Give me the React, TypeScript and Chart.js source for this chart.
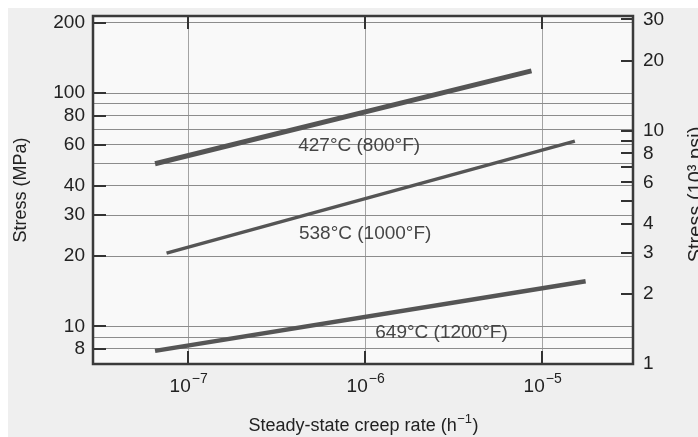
import React, { useEffect, useRef } from 'react';
import { Chart, registerables } from 'chart.js';

Chart.register(...registerables);

// ---- data ----
const seriesNames = ['427°C (800°F)', '538°C (1000°F)', '649°C (1200°F)'];
const rate427 = [6.5e-8, 8.7e-6];
const stress427 = [49.8, 124.5];
const rate538 = [7.55e-8, 1.53e-5];
const stress538 = [20.6, 62.2];
const rate649 = [6.5e-8, 1.76e-5];
const stress649 = [7.85, 15.6];

// where each curve's label sits (data coordinates)
const labelRates = [9.25e-7, 1.0e-6, 2.7e-6];
const labelStresses = [59.6, 24.9, 9.4];

const xTicks = [1e-7, 1e-6, 1e-5];
const xTickExponents = ['−7', '−6', '−5'];
const yGridValues = [200, 100, 90, 80, 70, 60, 50, 40, 30, 20, 10, 9, 8];
const yLabeled = [200, 100, 80, 60, 40, 30, 20, 10, 8];
const y2TickValues = [30, 20, 10, 9, 8, 7, 6, 5, 4, 3, 2, 1];
const y2Labeled = [30, 20, 10, 8, 6, 4, 3, 2, 1];

const MPA_PER_KSI = 6.895;
const xMin = 2.9e-8;
const xMax = 3.26e-5;
const yMin = 6.895;
const yMax = 214;

const FONT = "'Liberation Sans', Arial, sans-serif";

function pts(xs: number[], ys: number[]) {
  return xs.map((x, i) => ({ x, y: ys[i] }));
}

const decorPlugin = {
  id: 'decor',
  beforeDraw(chart: any) {
    const { ctx, chartArea } = chart;
    ctx.save();
    ctx.fillStyle = '#efefef';
    ctx.fillRect(0, 0, chart.width, chart.height);
    ctx.fillStyle = '#f9f9f9';
    ctx.fillRect(chartArea.left, chartArea.top, chartArea.right - chartArea.left, chartArea.bottom - chartArea.top);
    ctx.restore();
  },
  afterDatasetsDraw(chart: any) {
    const { ctx, chartArea, scales } = chart;
    ctx.save();
    // curve labels
    ctx.fillStyle = '#454545';
    ctx.font = `19px ${FONT}`;
    ctx.textAlign = 'center';
    ctx.textBaseline = 'middle';
    seriesNames.forEach((name, i) => {
      const px = scales.x.getPixelForValue(labelRates[i]);
      const py = scales.y.getPixelForValue(labelStresses[i]);
      ctx.fillText(name, px, py);
    });
    // inward tick marks
    ctx.strokeStyle = '#333';
    ctx.lineWidth = 2;
    ctx.beginPath();
    yLabeled.forEach((v) => {
      const py = Math.round(scales.y.getPixelForValue(v));
      ctx.moveTo(chartArea.left, py);
      ctx.lineTo(chartArea.left + 13, py);
    });
    y2TickValues.forEach((v) => {
      const py = Math.round(scales.y2.getPixelForValue(v));
      ctx.moveTo(chartArea.right, py);
      ctx.lineTo(chartArea.right - 12, py);
    });
    xTicks.forEach((v) => {
      const px = Math.round(scales.x.getPixelForValue(v));
      ctx.moveTo(px, chartArea.bottom);
      ctx.lineTo(px, chartArea.bottom - 13);
      ctx.moveTo(px, chartArea.top);
      ctx.lineTo(px, chartArea.top + 13);
    });
    ctx.stroke();
    // frame
    ctx.strokeStyle = '#3a3a3a';
    ctx.lineWidth = 2.5;
    ctx.strokeRect(chartArea.left, chartArea.top, chartArea.right - chartArea.left, chartArea.bottom - chartArea.top);

    // x tick labels: 10 with raised exponent
    ctx.fillStyle = '#222';
    ctx.textBaseline = 'alphabetic';
    ctx.textAlign = 'left';
    xTicks.forEach((v, i) => {
      const px = scales.x.getPixelForValue(v);
      ctx.font = `19px ${FONT}`;
      const wb = ctx.measureText('10').width;
      ctx.font = `14px ${FONT}`;
      const we = ctx.measureText(xTickExponents[i]).width;
      const x0 = px - (wb + we) / 2;
      const base = chartArea.bottom + 28;
      ctx.font = `19px ${FONT}`;
      ctx.fillText('10', x0, base);
      ctx.font = `14px ${FONT}`;
      ctx.fillText(xTickExponents[i], x0 + wb + 1, base - 9);
    });

    // x axis title with superscript
    {
      const cx = (chartArea.left + chartArea.right) / 2;
      const base = scales.x.bottom - 6;
      const main = 'Steady-state creep rate (h';
      const sup = '−1';
      const close = ')';
      ctx.font = `18px ${FONT}`;
      const wm = ctx.measureText(main).width;
      const wc = ctx.measureText(close).width;
      ctx.font = `13px ${FONT}`;
      const ws = ctx.measureText(sup).width;
      const x0 = cx - (wm + ws + wc) / 2;
      ctx.font = `18px ${FONT}`;
      ctx.fillText(main, x0, base);
      ctx.fillText(close, x0 + wm + ws + 1, base);
      ctx.font = `13px ${FONT}`;
      ctx.fillText(sup, x0 + wm + 0.5, base - 8);
    }

    // right axis title (reads bottom to top)
    ctx.font = `20px ${FONT}`;
    ctx.textAlign = 'center';
    ctx.textBaseline = 'middle';
    ctx.translate(scales.y2.right - 18, (chartArea.top + chartArea.bottom) / 2 + 4.5);
    ctx.rotate(-Math.PI / 2);
    ctx.fillText('Stress (10³ psi)', 0, 0);
    ctx.restore();
  },
};

export default function App() {
  const ref = useRef<HTMLCanvasElement>(null);

  useEffect(() => {
    if (!ref.current) return;
    const lineColor = '#555555';
    const chart = new Chart(ref.current, {
      type: 'line',
      data: {
        datasets: [
          { label: seriesNames[0], data: pts(rate427, stress427), borderColor: lineColor, borderWidth: 5, pointRadius: 0, borderCapStyle: 'butt' },
          { label: seriesNames[1], data: pts(rate538, stress538), borderColor: lineColor, borderWidth: 3.5, pointRadius: 0, borderCapStyle: 'butt' },
          { label: seriesNames[2], data: pts(rate649, stress649), borderColor: lineColor, borderWidth: 4.5, pointRadius: 0, borderCapStyle: 'butt' },
        ],
      },
      options: {
        responsive: false,
        animation: false,
        layout: { padding: { top: 8, left: 0, right: 0, bottom: 0 } },
        plugins: { legend: { display: false }, tooltip: { enabled: false } },
        scales: {
          x: {
            type: 'logarithmic',
            min: xMin,
            max: xMax,
            afterBuildTicks: (s: any) => { s.ticks = xTicks.map((v) => ({ value: v })); },
            afterFit: (s: any) => { s.height = 73; s.paddingLeft = 0; s.paddingRight = 0; },
            ticks: {
              autoSkip: false,
              maxRotation: 0,
              callback: () => '',
            },
            grid: { color: '#a3a3a3', lineWidth: 1, drawTicks: false },
            border: { display: false },
          },
          y: {
            type: 'logarithmic',
            position: 'left',
            min: yMin,
            max: yMax,
            afterBuildTicks: (s: any) => { s.ticks = yGridValues.map((v) => ({ value: v })); },
            afterFit: (s: any) => { s.width = 85; s.paddingTop = 0; s.paddingBottom = 0; },
            ticks: {
              autoSkip: false,
              padding: 8,
              color: '#222',
              font: { family: FONT, size: 19 },
              callback: (v: any) => (yLabeled.includes(v) ? String(v) : ''),
            },
            grid: { color: '#8c8c8c', lineWidth: 1, drawTicks: false },
            border: { display: false },
            title: {
              display: true,
              text: 'Stress (MPa)',
              color: '#222',
              font: { family: FONT, size: 18 },
              padding: { top: 2, bottom: 0 },
            },
          },
          y2: {
            type: 'logarithmic',
            position: 'right',
            min: yMin / MPA_PER_KSI,
            max: yMax / MPA_PER_KSI,
            afterBuildTicks: (s: any) => { s.ticks = y2TickValues.map((v) => ({ value: v })); },
            afterFit: (s: any) => { s.width = 81; s.paddingTop = 0; s.paddingBottom = 0; },
            ticks: {
              autoSkip: false,
              padding: 10,
              color: '#222',
              font: { family: FONT, size: 19 },
              callback: (v: any) => (y2Labeled.includes(v) ? String(v) : ''),
            },
            grid: { drawOnChartArea: false, drawTicks: false },
            border: { display: false },
          },
        },
      },
      plugins: [decorPlugin],
    } as any);
    return () => chart.destroy();
  }, []);

  return (
    <div style={{ position: 'fixed', left: 8, top: 8, width: 690, height: 429, overflow: 'hidden' }}>
      <canvas ref={ref} width={706} height={429} style={{ display: 'block' }} />
    </div>
  );
}
